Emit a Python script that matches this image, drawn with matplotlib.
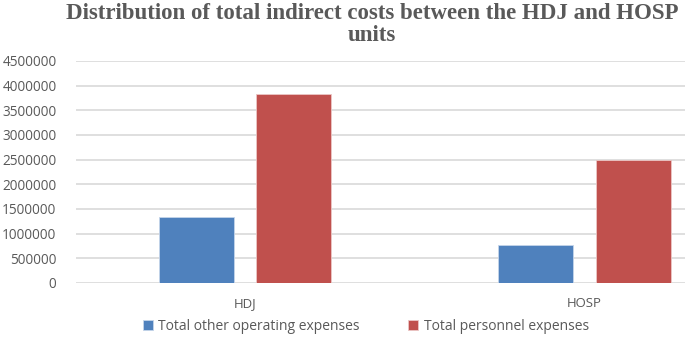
import numpy as np
import matplotlib
matplotlib.use('Agg')
from matplotlib import pyplot as plt

categories = ['HDJ', 'HOSP']
other_operating = [1340000, 770000]
personnel = [3830000, 2490000]
series_labels = ['Total other operating expenses', 'Total personnel expenses']
y_ticks = [0, 500000, 1000000, 1500000, 2000000, 2500000, 3000000, 3500000, 4000000, 4500000]

text_gray = '#595959'
grid_gray = '#D9D9D9'


def main():
    fig = plt.figure(figsize=(6.85, 3.43), dpi=100)
    ax = fig.add_axes([76 / 685, 60 / 343, 1 - 76 / 685, 222 / 343])

    x = np.arange(len(categories))
    width = 0.221
    offset = 0.143
    b1 = ax.bar(x - offset, other_operating, width, color='#4F81BD',
                edgecolor='#C5D5EA', linewidth=0.6, label=series_labels[0], zorder=3)
    b2 = ax.bar(x + offset, personnel, width, color='#C0504D',
                edgecolor='#EBC7C6', linewidth=0.6, label=series_labels[1], zorder=3)

    ax.set_xlim(-0.498, 1.296)
    ax.set_ylim(0, 4500000)
    ax.set_yticks(y_ticks)
    ax.set_yticklabels([str(v) for v in y_ticks])
    ax.set_xticks(x)
    ax.set_xticklabels(categories)
    ax.yaxis.grid(True, color=grid_gray, linewidth=1.2, zorder=0)
    ax.set_axisbelow(True)
    for s in ax.spines.values():
        s.set_visible(False)
    ax.tick_params(axis='y', length=0, pad=14, labelsize=9.8, labelcolor=text_gray)
    ax.tick_params(axis='x', length=0, pad=10, labelsize=9.5, labelcolor=text_gray)
    for lab in ax.get_xticklabels() + ax.get_yticklabels():
        lab.set_fontfamily('Open Sans')

    fig.text(0.543, 0.99, 'Distribution of total indirect costs between the HDJ and HOSP\nunits',
             ha='center', va='top', fontsize=16.5, fontweight='bold',
             family='Liberation Serif', color=text_gray, linespacing=1.05)

    fig.legend([b1, b2], series_labels, loc='center', bbox_to_anchor=(366 / 685, 1 - 326 / 343),
               ncol=2, frameon=False, handlelength=0.7, handleheight=0.7,
               columnspacing=3.5, handletextpad=0.4,
               prop={'family': 'Open Sans', 'size': 10}, labelcolor=text_gray)

    fig.savefig('out.png', dpi=100)


if __name__ == '__main__':
    main()
